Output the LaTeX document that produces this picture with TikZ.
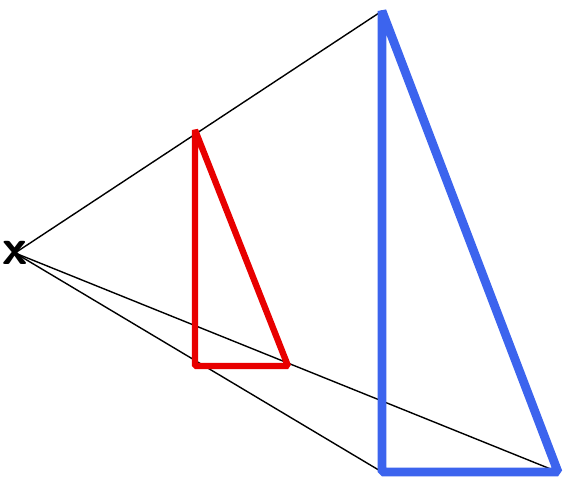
\documentclass[tikz,border=0pt]{standalone}
\usepackage{tikz}
\usetikzlibrary{calc}
\definecolor{tribl}{RGB}{60,100,238}
\definecolor{trir}{RGB}{232,0,0}
\tikzstyle{ray}=[black, line width=0.4pt]
\tikzstyle{bigtri}=[tribl, line width=2.5pt, line join=bevel]
\tikzstyle{smalltri}=[trir, line width=1.8pt, line join=bevel]

\begin{document}
\begin{tikzpicture}[x=1cm,y=1cm]
	\useasboundingbox (0,0) rectangle (5.72,4.80);
	\node[inner sep=0pt] (X) at (0.15,2.27) {\Large\textsf{\textbf{x}}};
	\coordinate (bT) at (3.82,4.69);
	\coordinate (bL) at (3.82,0.08);
	\coordinate (bR) at (5.58,0.08);
	\coordinate (rT) at (1.95,3.50);
	\coordinate (rL) at (1.95,1.14);
	\coordinate (rR) at (2.88,1.14);
	\draw[ray] (X.center) -- (bT);
	\draw[ray] (X.center) -- (bL);
	\draw[ray] (X.center) -- (bR);
	\draw[smalltri] (rT) -- (rL) -- (rR) -- cycle;
	\draw[bigtri] (bT) -- (bL) -- (bR) -- cycle;
\end{tikzpicture}
\end{document}
